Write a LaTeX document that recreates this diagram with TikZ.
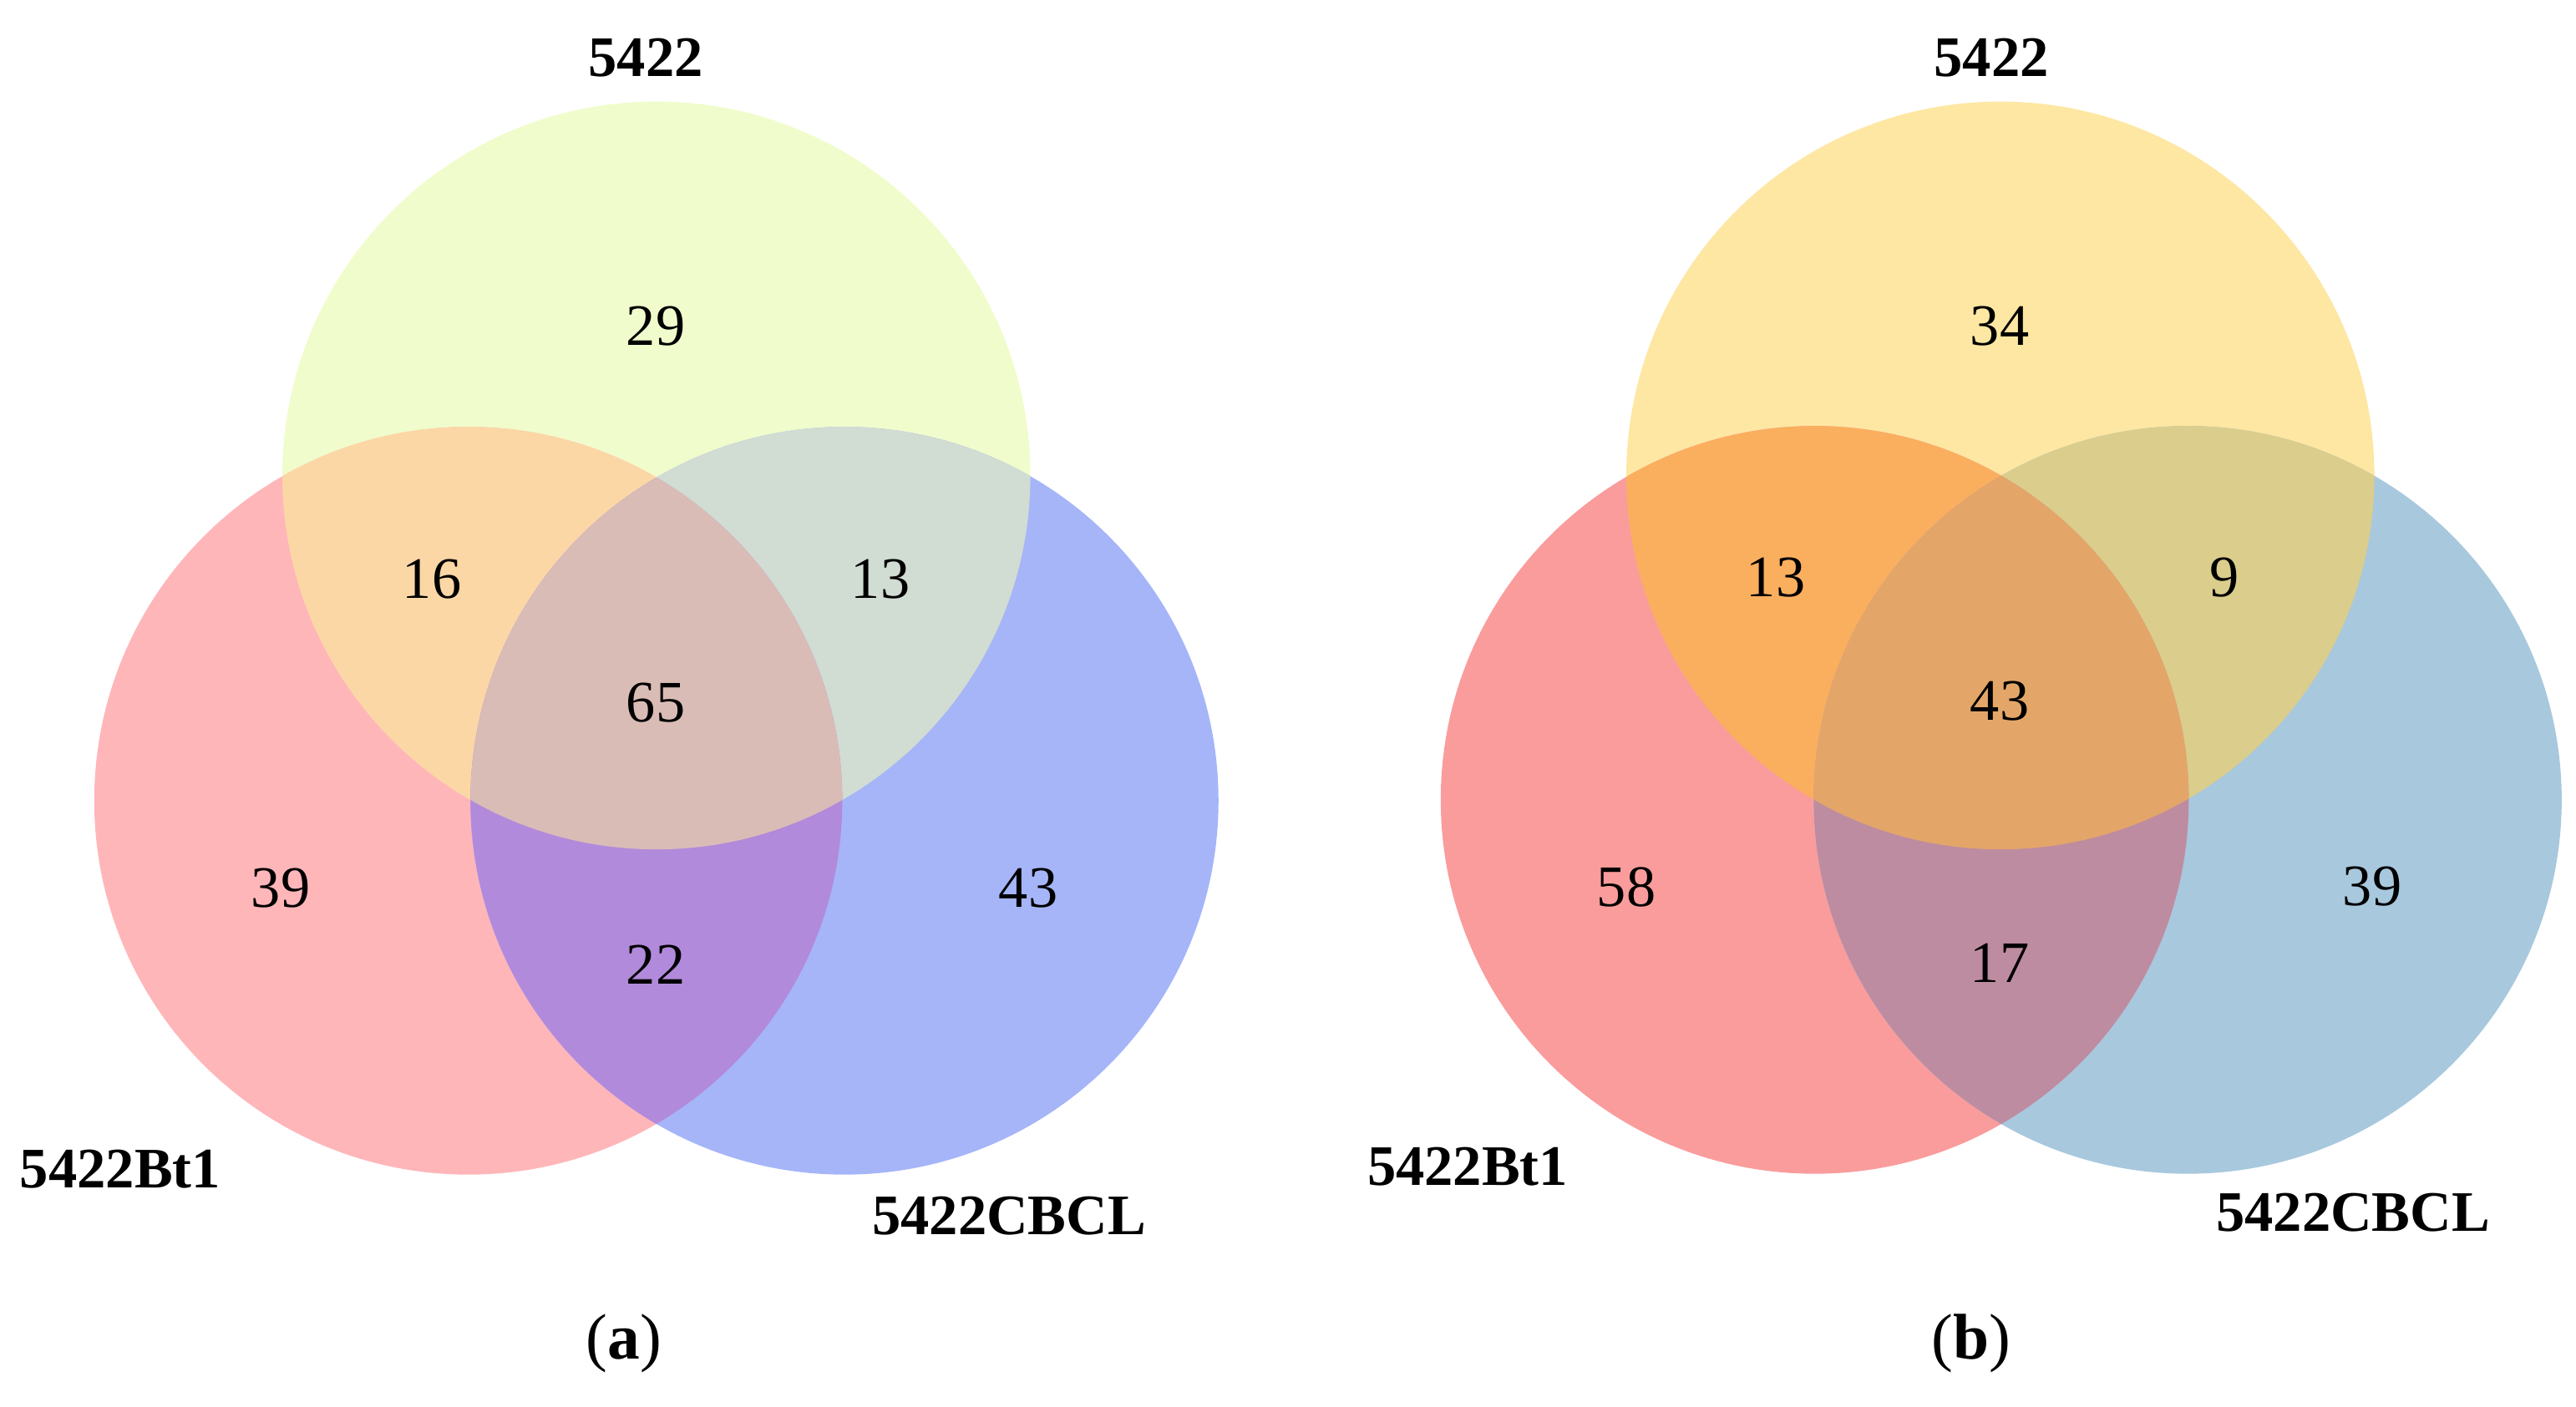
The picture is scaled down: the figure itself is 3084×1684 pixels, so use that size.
\documentclass[tikz,border=0pt]{standalone}
\usepackage{fontspec}
\setmainfont{Liberation Serif}
\definecolor{aT}{RGB}{240,252,204}
\definecolor{aL}{RGB}{255,182,185}
\definecolor{aR}{RGB}{165,181,248}
\definecolor{aTL}{RGB}{252,215,166}
\definecolor{aTR}{RGB}{209,220,211}
\definecolor{aLR}{RGB}{178,138,219}
\definecolor{aTLR}{RGB}{218,188,182}
\definecolor{bT}{RGB}{253,231,163}
\definecolor{bL}{RGB}{250,156,156}
\definecolor{bR}{RGB}{168,200,222}
\definecolor{bTL}{RGB}{250,175,95}
\definecolor{bTR}{RGB}{219,205,139}
\definecolor{bLR}{RGB}{190,140,160}
\definecolor{bTLR}{RGB}{228,166,104}
\tikzset{
  num/.style={inner sep=0pt, font=\fontsize{20}{24}\selectfont},
  setlabel/.style={inner sep=0pt, font=\fontsize{19.5}{23}\selectfont\bfseries},
  captext/.style={inner sep=0pt, font=\fontsize{22}{26}\selectfont},
}
\newcommand{\myvenn}[4]{%
  \fill[#4T] (#1) circle (4.475cm);
  \fill[#4L] (#2) circle (4.475cm);
  \fill[#4R] (#3) circle (4.475cm);
  \begin{scope}\clip (#1) circle (4.475cm); \fill[#4TL] (#2) circle (4.475cm);\end{scope}
  \begin{scope}\clip (#1) circle (4.475cm); \fill[#4TR] (#3) circle (4.475cm);\end{scope}
  \begin{scope}\clip (#2) circle (4.475cm); \fill[#4LR] (#3) circle (4.475cm);\end{scope}
  \begin{scope}\clip (#1) circle (4.475cm); \clip (#2) circle (4.475cm); \fill[#4TLR] (#3) circle (4.475cm);\end{scope}
}
\begin{document}
\begin{tikzpicture}[x=0.01cm,y=-0.01cm]
\useasboundingbox (0,0) rectangle (3084,1684);
% panel (a)
\coordinate (aTc) at (785.8,569.4);
\coordinate (aLc) at (560.6,958.9);
\coordinate (aRc) at (1011.0,958.9);
\myvenn{aTc}{aLc}{aRc}{a}
\node[setlabel] (aTlab) at (773,69) {5422};
\node[setlabel] (aLlab) at (144,1400) {5422Bt1};
\node[setlabel] (aRlab) at (1208,1456) {5422CBCL};
\node[num] (a1) at (785,391) {29};
\node[num] (a2) at (517,694) {16};
\node[num] (a3) at (1054,694) {13};
\node[num] (a4) at (785,842) {65};
\node[num] (a5) at (336,1064) {39};
\node[num] (a6) at (1231,1064) {43};
\node[num] (a7) at (785,1155) {22};
\node[captext] (acap) at (747,1609) {(\textbf{a})};
% panel (b)
\coordinate (bTc) at (2394.8,569.4);
\coordinate (bLc) at (2172.6,957.9);
\coordinate (bRc) at (2619.1,957.9);
\myvenn{bTc}{bLc}{bRc}{b}
\node[setlabel] (bTlab) at (2384,69) {5422};
\node[setlabel] (bLlab) at (1757,1397) {5422Bt1};
\node[setlabel] (bRlab) at (2817,1452) {5422CBCL};
\node[num] (b1) at (2394,391) {34};
\node[num] (b2) at (2126,692) {13};
\node[num] (b3) at (2663,692) {9};
\node[num] (b4) at (2394,840) {43};
\node[num] (b5) at (1947,1062) {58};
\node[num] (b6) at (2840,1062) {39};
\node[num] (b7) at (2394,1153) {17};
\node[captext] (bcap) at (2360,1609) {(\textbf{b})};
\end{tikzpicture}
\end{document}
